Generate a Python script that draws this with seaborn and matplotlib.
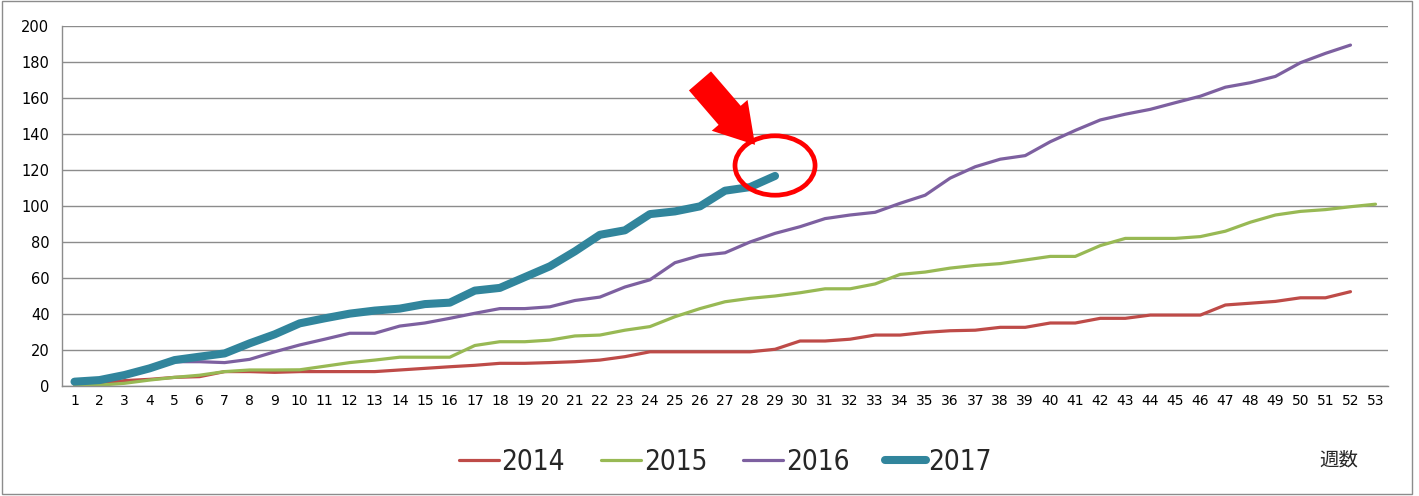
import numpy as np
import pandas as pd
import matplotlib
matplotlib.use("Agg")
import matplotlib.pyplot as plt
from matplotlib.patches import Ellipse, Rectangle
from matplotlib import font_manager
import seaborn as sns

# weeks on the category axis
weeks = list(range(1, 54))

# cumulative counts per year
y2014 = [1, 1.5, 3, 3.7, 4.8, 5.2, 8, 8, 7.6, 8, 8, 8, 8, 8.9, 9.8, 10.7, 11.5,
         12.6, 12.6, 13, 13.5, 14.4, 16.3, 19, 19, 19, 19, 19, 20.4, 25, 25, 26,
         28.3, 28.3, 29.8, 30.7, 31, 32.6, 32.6, 35, 35, 37.6, 37.6, 39.4, 39.4,
         39.4, 45, 46, 47, 49, 49, 52.4]
y2015 = [0.5, 0.5, 1.5, 3.3, 4.8, 6, 8, 8.9, 8.9, 9, 11, 13, 14.4, 16, 16, 16,
         22.5, 24.6, 24.6, 25.5, 27.8, 28.3, 31, 33, 38.5, 43, 46.8, 48.7, 50,
         51.8, 54, 54, 56.7, 62, 63.3, 65.5, 67, 68, 70, 72, 72, 78, 82, 82, 82,
         83, 86, 91, 95, 97, 98, 99.6, 101]
y2016 = [2, 3, 6, 9, 13.5, 13.5, 13, 14.8, 19, 22.8, 26, 29.3, 29.3, 33.3, 35,
         37.6, 40.4, 43, 43, 44, 47.5, 49.4, 55, 59, 68.5, 72.5, 74, 80, 84.8,
         88.5, 93, 95, 96.5, 101.5, 106, 115.5, 121.8, 126, 128, 135.7, 142,
         147.8, 151, 153.7, 157.4, 161, 166, 168.5, 172, 179.6, 184.8, 189.4]
y2017 = [2.4, 3.3, 6.1, 9.8, 14.4, 16.3, 18.1, 23.7, 28.7, 34.8, 37.6, 40.2,
         41.9, 43, 45.5, 46.3, 53, 54.5, 60.5, 66.5, 74.8, 84, 86.5, 95.5, 97,
         99.8, 108.5, 110.5, 116.7]

years = ["2014", "2015", "2016", "2017"]
series = [y2014, y2015, y2016, y2017]
colors = ["#BE4B48", "#98B954", "#7D60A0", "#31859C"]
widths = [2.3, 2.3, 2.3, 5.8]

sns.set_style("white")
plt.rcParams["font.family"] = ["DejaVu Sans", "Noto Sans CJK JP"]

fig = plt.figure(figsize=(14.19, 4.96), dpi=100)
ax = fig.add_axes([62 / 1419, 1 - 386 / 496, 1326 / 1419, 360 / 496])

for year, vals, c, lw in zip(years, series, colors, widths):
    df = pd.DataFrame({"week": weeks[:len(vals)], "count": vals})
    sns.lineplot(data=df, x="week", y="count", ax=ax, color=c, linewidth=lw,
                 label=year, sort=False, solid_capstyle="round",
                 solid_joinstyle="round")

ax.set_xlim(0.5, 53.5)
ax.set_ylim(0, 200)
ax.set_yticks(np.arange(0, 201, 20))
ax.set_xticks(weeks)
ax.set_xticks(np.arange(0.5, 54, 1), minor=True)
ax.set_xlabel("")
ax.set_ylabel("")
ax.grid(axis="y", color="#8c8c8c", linewidth=1)
ax.grid(axis="x", visible=False)
for side in ["top", "right"]:
    ax.spines[side].set_visible(False)
for side in ["left", "bottom"]:
    ax.spines[side].set_color("#8c8c8c")
    ax.spines[side].set_linewidth(1)
ax.tick_params(axis="x", which="major", length=0, labelsize=10, pad=6, colors="black")
ax.tick_params(axis="x", which="minor", length=5, color="#8c8c8c", width=1)
ax.tick_params(axis="y", length=5, color="#8c8c8c", width=1, labelsize=10.5,
               labelcolor="black", pad=4)

# red circle and arrow pointing at the latest week
ax.add_patch(Ellipse((29, 122.5), 3.2, 33, fill=False, edgecolor="red",
                     linewidth=3.4, clip_on=False, zorder=5))
ax.annotate("", xy=(28.2, 134), xytext=(26.0, 169.5),
            arrowprops=dict(arrowstyle="simple,head_width=34,head_length=28,tail_width=21",
                            mutation_scale=1, fc="red", ec="red", lw=0,
                            shrinkA=0, shrinkB=0),
            zorder=6, annotation_clip=False)

# narrow font for the legend, like the original
leg_font = font_manager.FontProperties(
    family=["Liberation Sans Narrow", "DejaVu Sans"], stretch="condensed", size=20)
leg = ax.legend(loc="center", bbox_to_anchor=(0.511, 0.069),
                bbox_transform=fig.transFigure, ncol=4, frameon=False,
                prop=leg_font, handlelength=1.45, handletextpad=0.08,
                columnspacing=1.3)

fig.text(1339 / 1419, 1 - 460 / 496, "週数", ha="center", va="center",
         fontsize=14, family=["Noto Sans CJK JP", "DejaVu Sans"])

# outer chart border
fig.add_artist(Rectangle((0.0015, 0.004), 0.9935, 0.994, transform=fig.transFigure,
                         fill=False, edgecolor="#8c8c8c", linewidth=1))

fig.savefig("out.png", dpi=100)
